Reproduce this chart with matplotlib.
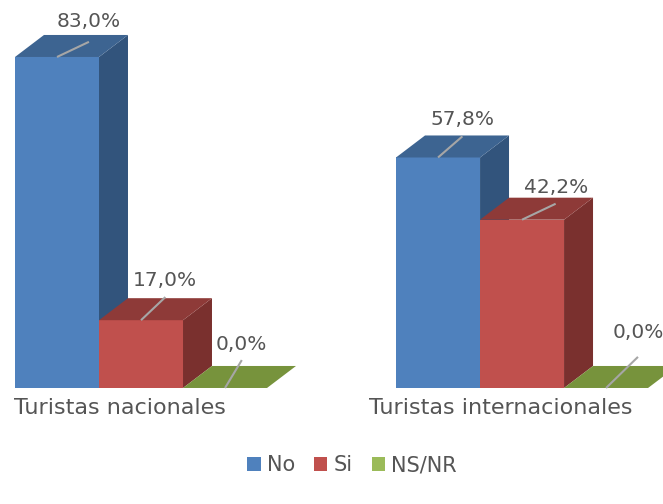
import matplotlib.pyplot as plt
from matplotlib.patches import Rectangle, Polygon, Patch

groups = ['Turistas nacionales', 'Turistas internacionales']
series = ['No', 'Si', 'NS/NR']
no_vals = [83.0, 57.8]
si_vals = [17.0, 42.2]
nsnr_vals = [0.0, 0.0]

# front / top / side colours per series
front = ['#4F81BD', '#C0504D', '#77933C']
top = ['#3D6491', '#8E3A38', '#77933C']
side = ['#32547C', '#7A302E', '#5E7530']
legend_cols = ['#4F81BD', '#C0504D', '#9BBB59']

# label leader offsets (dx to end, dy to end, text dy), per group/series
lab_off = [
    [(0.38, 3.8, 8.8), (0.29, 5.8, 10.0), (0.20, 7.0, 11.0)],
    [(0.29, 5.3, 9.5), (0.40, 4.0, 8.0), (0.38, 7.8, 14.0)],
]

gap = 4.536       # distance between group starts (bar widths)
ddx, ddy = 0.345, 5.52   # 3D depth offset

fig = plt.figure(figsize=(6.63, 5.04), dpi=100)
ax = fig.add_axes([0, 0, 1, 1])
ax.set_xlim(-0.1786, 7.714)
ax.set_ylim(-29.09, 97.29)
ax.axis('off')

txt_col = '#555555'
vals = [no_vals, si_vals, nsnr_vals]
for g in range(len(groups)):
    for s in range(len(series)):
        x = g * gap + s
        v = vals[s][g]
        if v > 0:
            ax.add_patch(Polygon([(x + 1, 0), (x + 1 + ddx, ddy), (x + 1 + ddx, v + ddy), (x + 1, v)],
                                 closed=True, fc=side[s], ec='none'))
            ax.add_patch(Rectangle((x, 0), 1, v, fc=front[s], ec='none'))
        ax.add_patch(Polygon([(x, v), (x + ddx, v + ddy), (x + 1 + ddx, v + ddy), (x + 1, v)],
                             closed=True, fc=top[s], ec='none'))
        ox, oy, ty = lab_off[g][s]
        ax.plot([x + 0.5, x + 0.5 + ox], [v, v + oy], color='#A6A6A6', lw=1.5, solid_capstyle='butt')
        ax.text(x + 0.5 + ox, v + ty, f'{v:.1f}%'.replace('.', ','), ha='center', va='center',
                fontsize=14.5, color=txt_col)
    ax.text(g * gap + 1.25, -5.0, groups[g], ha='center', va='center', fontsize=16, color=txt_col)

handles = [Patch(fc=c, ec='none') for c in legend_cols]
fig.legend(handles, series, loc='center', bbox_to_anchor=(0.531, 0.077), ncol=3, frameon=False,
           fontsize=15, handlelength=0.65, handleheight=0.65, handletextpad=0.3, columnspacing=0.9,
           labelcolor=txt_col)

fig.savefig('out.png', dpi=100)
